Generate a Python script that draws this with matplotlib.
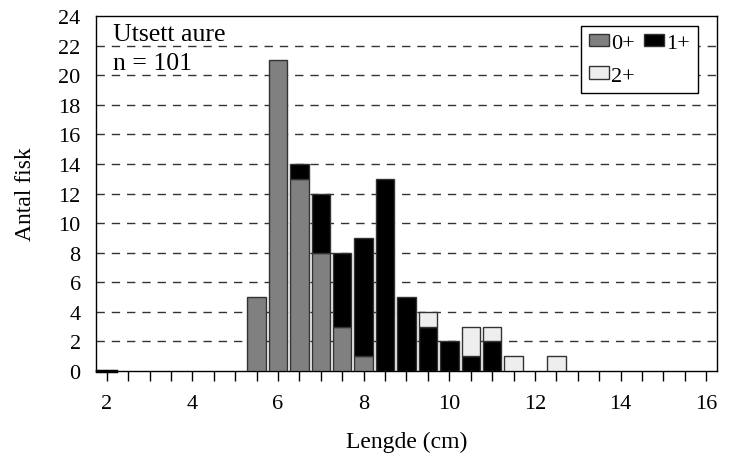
#!/usr/bin/env python3
# -*- coding: utf-8 -*-
"""
Stacked length distribution of stocked trout by age class.
"""

import numpy as np
import matplotlib
matplotlib.use('Agg')
import matplotlib.pyplot

lengths = [2.0, 5.5, 6.0, 6.5, 7.0, 7.5, 8.0, 8.5, 9.0, 9.5, 10.0, 10.5,
           11.0, 11.5, 12.0, 12.5]
age_0 = [0, 5, 21, 13, 8, 3, 1, 0, 0, 0, 0, 0, 0, 0, 0, 0]
age_1 = [0, 0, 0, 1, 4, 5, 8, 13, 5, 3, 2, 1, 2, 0, 0, 0]
age_2 = [0, 0, 0, 0, 0, 0, 0, 0, 0, 1, 0, 2, 1, 1, 0, 1]
age_labels = ['0+', '1+', '2+']
age_colors = ['#808080', '#000000', '#eeeeee']
title_lines = ['Utsett aure', 'n = 101']
x_label = 'Lengde (cm)'
y_label = 'Antal fisk'


def length_histogram(file_out):
    """
    Draws the stacked bar chart and saves it
    """
    matplotlib.pyplot.rcParams['font.family'] = ['Liberation Serif',
                                                 'DejaVu Serif']
    figure = matplotlib.pyplot.figure(figsize=(7.32, 4.60), dpi=100)
    axes = figure.add_axes([0.1311, 0.1913, 0.8484, 0.7717])

    bottom = np.zeros(len(lengths))
    handles = []
    for values, label, color in zip([age_0, age_1, age_2], age_labels,
                                    age_colors):
        values = np.array(values, dtype=float)
        mask = values > 0
        bars = axes.bar(np.array(lengths)[mask], values[mask], width=0.43,
                        bottom=bottom[mask], color=color, edgecolor='#333333',
                        linewidth=1.0, label=label, zorder=3)
        handles.append(bars)
        bottom += values

    # zero-sized class at 2 cm shows as a thick baseline segment
    axes.plot([lengths[0] - 0.215, lengths[0] + 0.215], [0, 0],
              color='black', linewidth=2.5, zorder=4, clip_on=False)

    axes.set_xlim(1.75, 16.25)
    axes.set_ylim(0, 24)
    axes.set_xticks(np.arange(2, 16.01, 0.5))
    axes.set_xticklabels(['%d' % v if v % 2 == 0 else ''
                          for v in np.arange(2, 16.01, 0.5)])
    axes.set_yticks(np.arange(0, 24.01, 2))
    axes.tick_params(axis='x', direction='out', length=7.5, width=1,
                     labelsize=16, pad=9)
    axes.tick_params(axis='y', length=0, labelsize=16, pad=11)
    for spine in axes.spines.values():
        spine.set_linewidth(1.0)
    for y in range(2, 24, 2):
        axes.axhline(y, color='#333333', linewidth=1.0,
                     linestyle=(0, (6, 5)), zorder=1)

    axes.set_xlabel(x_label, fontsize=17, labelpad=13)
    axes.set_ylabel(y_label, fontsize=17, labelpad=16)

    axes.text(0.027, 0.949, title_lines[0], transform=axes.transAxes,
              fontsize=18.5, va='center', ha='left')
    axes.text(0.027, 0.867, title_lines[1], transform=axes.transAxes,
              fontsize=18.5, va='center', ha='left')

    # column-wise fill: 0+ and 1+ on the first row, 2+ below
    order = [0, 2, 1]
    legend = axes.legend(handles=[handles[i] for i in order],
                         labels=[age_labels[i] for i in order],
                         ncol=2, loc='upper right',
                         bbox_to_anchor=(0.969, 0.972), borderaxespad=0,
                         fancybox=False, edgecolor='black', fontsize=16,
                         handlelength=0.9, handleheight=0.5,
                         handletextpad=0.1, columnspacing=0.4,
                         borderpad=0.35, labelspacing=0.6, framealpha=1)
    legend.get_frame().set_linewidth(1.0)
    legend.set_zorder(5)

    figure.savefig(file_out)
    matplotlib.pyplot.close()


if __name__ == '__main__':
    length_histogram('out.png')
